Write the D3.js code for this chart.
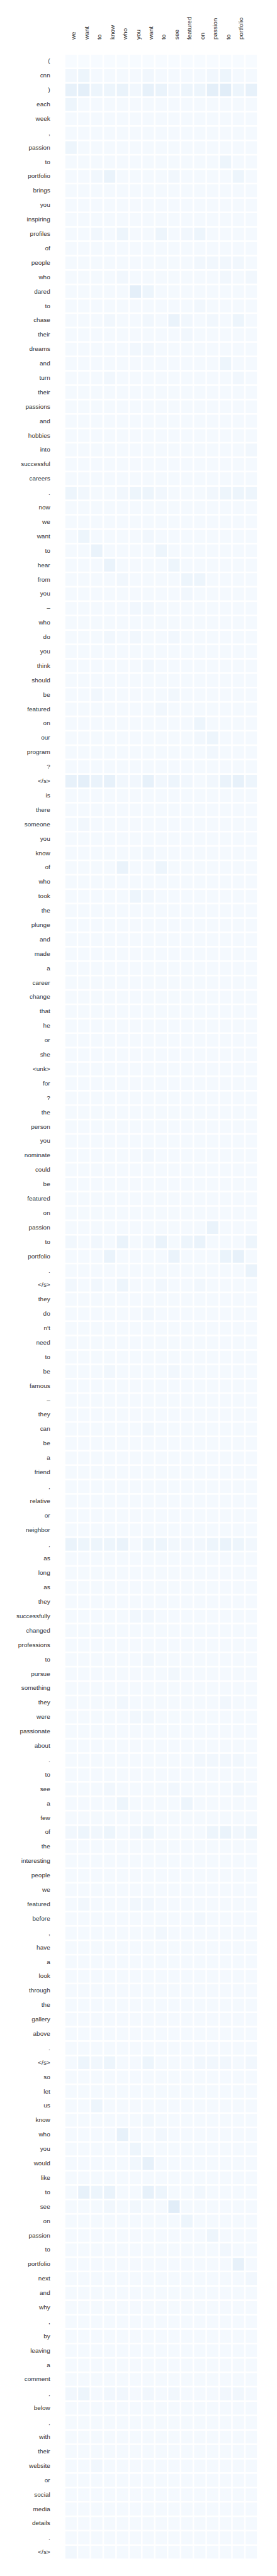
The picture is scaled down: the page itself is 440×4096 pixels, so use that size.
<!DOCTYPE html>
<html>
<head>
<meta charset="utf-8">
<script src="https://cdn.jsdelivr.net/npm/d3@7/dist/d3.min.js"></script>
<style>
  html, body { margin: 0; padding: 0; background: #ffffff; }
  svg { display: block; }
</style>
</head>
<body>
<div id="chart"></div>
<script>
// Target (column) tokens
const columns = ["we", "want", "to", "know", "who", "you", "want", "to", "see", "featured", "on", "passion", "to", "portfolio", ""];

// Source (row) tokens
const rows = ["(", "cnn", ")", "each", "week", ",", "passion", "to", "portfolio", "brings",
  "you", "inspiring", "profiles", "of", "people", "who", "dared", "to", "chase", "their",
  "dreams", "and", "turn", "their", "passions", "and", "hobbies", "into", "successful", "careers",
  ".", "now", "we", "want", "to", "hear", "from", "you", "–", "who",
  "do", "you", "think", "should", "be", "featured", "on", "our", "program", "?",
  "</s>", "is", "there", "someone", "you", "know", "of", "who", "took", "the",
  "plunge", "and", "made", "a", "career", "change", "that", "he", "or", "she",
  "<unk>", "for", "?", "the", "person", "you", "nominate", "could", "be", "featured",
  "on", "passion", "to", "portfolio", ".", "</s>", "they", "do", "n't", "need",
  "to", "be", "famous", "–", "they", "can", "be", "a", "friend", ",",
  "relative", "or", "neighbor", ",", "as", "long", "as", "they", "successfully", "changed",
  "professions", "to", "pursue", "something", "they", "were", "passionate", "about", ".", "to",
  "see", "a", "few", "of", "the", "interesting", "people", "we", "featured", "before",
  ",", "have", "a", "look", "through", "the", "gallery", "above", ".", "</s>",
  "so", "let", "us", "know", "who", "you", "would", "like", "to", "see",
  "on", "passion", "to", "portfolio", "next", "and", "why", ",", "by", "leaving",
  "a", "comment", ",", "below", ",", "with", "their", "website", "or", "social",
  "media", "details", ".", "</s>"];

// Attention weight per row (source token) and column (target token), in hundredths
const weights = [
  [0,0,0,0,0,0,0,0,0,0,0,0,0,0,0],
  [2,3,1,1,1,1,2,1,1,1,1,2,3,1,1],
  [5,6,3,3,4,2,5,4,2,3,3,6,7,3,5],
  [3,1,1,1,1,1,1,1,1,1,1,1,1,1,1],
  [1,1,1,1,1,1,1,1,1,1,1,1,1,1,1],
  [1,1,1,1,1,1,1,1,1,1,1,1,1,1,1],
  [3,1,1,1,1,1,1,1,1,1,1,1,1,1,1],
  [1,1,1,1,1,1,1,1,1,1,1,1,3,1,1],
  [1,1,2,4,1,1,1,1,2,1,1,1,1,3,1],
  [1,1,1,1,1,1,1,1,1,1,1,1,1,1,1],
  [1,1,1,1,1,1,1,1,1,1,1,1,1,1,1],
  [1,1,1,1,1,1,1,1,1,1,1,1,1,1,1],
  [1,1,2,1,3,1,1,3,1,2,3,1,1,1,1],
  [1,1,1,1,1,1,1,1,1,1,1,1,1,1,1],
  [1,1,1,1,1,1,1,1,1,1,2,2,2,2,1],
  [1,1,1,1,2,1,1,1,1,1,1,1,2,1,2],
  [1,1,1,1,1,6,3,1,1,1,1,1,1,1,1],
  [1,1,1,1,1,1,1,1,1,1,2,1,1,1,1],
  [1,1,1,2,1,1,2,1,4,2,1,2,1,3,1],
  [1,1,1,1,1,1,1,1,1,2,1,1,1,1,1],
  [1,1,1,1,1,2,2,1,1,1,1,1,1,1,1],
  [1,1,1,1,1,1,1,1,1,1,1,1,3,1,1],
  [1,1,1,2,1,1,1,1,1,1,1,1,1,2,1],
  [1,1,1,1,1,1,1,1,1,1,1,1,1,1,1],
  [1,1,1,1,1,1,1,1,1,1,1,1,1,1,1],
  [1,1,1,1,1,1,1,1,1,1,1,1,1,1,1],
  [1,1,1,1,1,1,1,1,1,1,1,1,1,1,1],
  [1,1,1,1,1,1,1,1,1,1,1,1,1,1,2],
  [1,1,1,1,1,1,1,1,1,1,1,1,1,1,1],
  [1,1,1,1,1,1,1,1,1,1,1,1,1,1,1],
  [3,2,1,1,2,3,3,2,1,1,1,2,3,3,3],
  [1,1,1,1,1,1,1,1,1,1,1,1,1,1,1],
  [1,1,1,1,1,1,1,1,1,1,1,1,1,1,1],
  [1,3,1,1,1,1,2,1,1,1,1,1,1,1,1],
  [1,1,4,1,1,1,1,3,1,1,1,1,1,1,1],
  [1,1,1,4,1,1,1,1,3,1,1,1,1,1,1],
  [1,1,1,1,2,1,1,1,1,3,3,1,1,1,1],
  [1,1,1,1,1,1,1,1,1,2,1,1,1,1,1],
  [1,1,1,1,1,2,2,1,1,1,1,1,1,1,1],
  [1,1,1,1,1,1,1,1,1,1,1,1,1,1,1],
  [1,1,1,2,1,2,1,1,2,1,1,1,1,1,1],
  [1,1,1,1,1,1,1,1,1,1,1,1,1,1,1],
  [1,1,1,1,1,1,2,1,1,1,1,1,1,1,1],
  [1,1,1,1,1,1,1,1,1,1,1,1,1,1,1],
  [1,1,2,1,1,1,1,1,2,1,1,1,1,1,1],
  [1,1,1,1,1,1,1,2,1,1,1,1,1,1,1],
  [1,1,1,1,1,1,1,1,1,1,3,1,1,1,1],
  [1,1,1,1,1,1,1,1,1,1,2,3,1,1,1],
  [1,1,1,1,1,1,1,1,1,1,1,2,1,1,1],
  [1,1,1,1,1,1,1,1,1,1,1,1,1,1,1],
  [5,6,4,5,2,2,5,2,3,2,1,2,4,5,3],
  [1,1,1,1,1,1,1,1,1,1,1,1,1,1,1],
  [1,1,1,1,1,1,1,1,1,1,1,1,1,1,1],
  [1,2,1,1,1,1,1,1,1,1,1,1,1,1,1],
  [1,1,1,1,1,1,1,1,1,1,1,1,1,1,1],
  [1,1,1,1,1,1,2,1,1,1,1,1,1,1,1],
  [1,1,1,1,4,1,1,3,1,1,1,1,1,1,1],
  [1,1,1,1,1,1,1,1,1,1,1,1,1,1,1],
  [1,1,1,1,1,3,2,1,1,1,1,1,1,1,1],
  [1,1,1,1,1,1,1,1,1,1,1,1,1,1,1],
  [1,1,1,1,1,1,1,1,1,1,1,1,1,1,1],
  [1,1,1,1,1,1,1,1,1,1,1,1,1,1,1],
  [1,1,1,1,1,1,1,1,1,1,1,1,1,1,1],
  [1,1,1,1,1,1,1,1,1,1,1,1,1,1,1],
  [1,1,1,1,1,1,1,1,1,1,1,1,1,1,1],
  [1,1,1,1,1,1,1,1,1,1,1,1,1,1,1],
  [1,1,1,1,1,1,1,1,1,1,1,1,1,1,1],
  [1,1,1,1,1,1,1,1,1,1,1,1,1,1,1],
  [1,1,1,1,1,1,1,1,1,1,1,1,1,1,1],
  [1,1,1,1,1,1,1,1,1,1,1,1,1,1,1],
  [1,1,1,1,1,1,1,1,1,1,1,1,1,1,1],
  [1,1,1,1,1,1,1,1,1,1,1,1,1,1,1],
  [1,1,1,1,1,1,1,1,1,1,1,1,1,1,1],
  [1,1,1,1,1,1,1,1,1,1,1,1,1,1,1],
  [1,1,1,1,1,1,1,1,1,1,1,1,1,1,1],
  [1,1,1,1,1,1,1,1,1,1,1,1,1,1,1],
  [1,1,1,1,1,1,2,1,1,1,1,1,1,1,1],
  [1,1,1,1,1,1,1,1,1,1,1,1,1,1,1],
  [1,1,1,1,1,1,1,1,1,1,1,1,1,1,1],
  [1,1,1,1,1,1,1,1,1,1,1,1,1,1,1],
  [1,1,1,1,1,1,1,1,1,1,1,1,1,1,1],
  [1,1,1,1,1,1,1,1,1,1,1,4,1,1,1],
  [2,1,2,1,4,1,2,4,1,3,4,1,1,1,3],
  [1,1,1,4,1,1,1,1,4,1,1,1,4,5,1],
  [1,1,1,1,1,1,1,1,1,1,1,1,1,1,4],
  [2,1,2,1,3,1,1,2,1,1,2,1,1,1,1],
  [1,1,1,1,1,1,1,1,1,1,1,1,1,1,1],
  [1,1,1,1,1,1,2,1,1,1,1,1,1,1,1],
  [1,1,1,1,1,1,1,1,1,1,1,1,1,1,1],
  [1,1,1,1,1,1,1,1,1,1,1,1,1,1,1],
  [1,1,1,1,1,1,1,1,1,1,1,1,1,1,1],
  [1,1,1,2,1,1,1,1,2,1,1,1,1,1,1],
  [1,1,1,1,1,1,1,1,1,1,1,1,1,1,1],
  [1,1,1,1,1,1,1,1,1,1,1,1,1,1,1],
  [1,1,1,1,1,1,1,1,1,1,1,1,1,1,1],
  [1,1,1,1,1,1,2,1,1,1,1,1,1,1,1],
  [1,1,1,1,1,1,1,1,1,1,1,1,1,1,1],
  [1,1,1,1,1,1,1,1,1,1,1,1,1,1,1],
  [1,1,1,1,1,1,1,1,1,1,1,1,1,1,1],
  [1,1,1,1,1,1,1,1,1,1,1,1,1,1,1],
  [1,1,1,1,1,1,1,1,1,1,1,1,1,1,1],
  [1,1,1,1,1,1,1,1,1,1,1,1,1,1,1],
  [1,1,1,1,1,1,1,1,1,1,1,1,1,1,1],
  [4,3,3,3,4,1,3,3,2,2,2,3,4,3,2],
  [1,1,1,1,1,1,1,1,1,1,1,1,1,1,1],
  [1,1,1,1,1,1,1,1,1,1,1,1,1,1,1],
  [1,1,1,1,1,1,1,1,1,1,1,1,1,1,1],
  [1,1,1,1,1,1,1,1,1,1,1,1,1,1,1],
  [1,1,1,1,1,2,2,1,1,1,1,1,1,1,1],
  [1,1,1,1,1,1,1,1,1,1,1,1,1,1,1],
  [1,1,1,1,1,1,1,1,1,1,1,1,1,1,1],
  [1,1,1,1,1,1,2,1,1,1,1,1,1,1,1],
  [1,1,1,1,1,1,1,1,2,1,1,1,1,1,1],
  [1,1,1,1,1,1,1,1,1,1,1,1,1,1,1],
  [1,1,1,1,2,1,1,1,1,1,1,1,2,1,1],
  [1,1,1,1,1,2,2,1,1,1,1,1,1,1,1],
  [1,1,1,1,1,1,1,1,1,1,1,1,1,1,1],
  [1,1,1,1,1,1,1,1,1,1,1,1,1,1,1],
  [1,1,1,1,1,1,1,1,1,1,2,2,2,2,1],
  [1,1,1,1,1,1,1,1,1,1,1,1,1,1,1],
  [1,1,1,2,1,1,1,1,2,1,1,1,1,2,1],
  [1,1,1,1,3,1,1,1,1,3,1,1,1,1,1],
  [1,1,1,1,1,1,1,1,1,1,1,1,1,1,1],
  [2,3,2,3,1,2,3,1,1,1,1,3,4,2,3],
  [1,1,1,1,1,1,1,1,1,1,1,1,1,1,1],
  [1,1,1,1,1,1,1,1,1,1,1,1,1,1,1],
  [1,1,1,1,1,1,1,1,1,1,1,1,1,1,1],
  [1,1,1,1,1,1,1,1,1,1,1,1,1,1,1],
  [1,2,1,1,1,2,2,1,1,1,1,1,1,1,1],
  [1,1,1,1,1,1,1,1,1,1,2,1,1,1,1],
  [1,1,1,1,1,1,1,2,1,1,1,1,1,1,1],
  [1,1,1,1,1,1,1,1,1,1,1,1,1,1,1],
  [1,1,1,1,1,1,1,1,1,1,1,1,1,1,1],
  [1,1,1,1,1,1,1,1,1,1,1,1,1,1,1],
  [1,1,1,1,1,1,1,1,1,1,1,1,1,1,1],
  [1,1,1,1,1,1,1,1,1,1,1,1,1,1,1],
  [1,1,1,1,1,1,1,1,1,1,1,1,1,1,1],
  [1,1,1,1,1,1,1,1,1,1,1,1,1,1,1],
  [1,1,1,1,1,1,1,1,1,1,1,1,1,1,1],
  [1,3,2,3,1,1,3,1,1,1,2,2,2,1,2],
  [1,1,1,1,1,1,1,1,1,1,1,1,1,1,1],
  [1,1,1,1,1,1,1,1,1,1,1,1,1,1,1],
  [1,1,3,1,1,1,1,1,1,1,1,1,1,1,1],
  [1,1,1,1,1,1,2,1,1,1,1,1,1,1,1],
  [1,1,1,1,5,1,1,2,1,1,1,1,1,1,1],
  [1,1,1,1,1,3,1,1,1,1,1,1,1,1,1],
  [1,1,1,1,1,2,5,1,1,1,1,1,1,1,1],
  [1,1,1,1,1,1,1,1,1,1,1,1,1,1,1],
  [1,5,3,4,1,1,5,3,1,1,2,1,1,1,1],
  [1,1,1,2,1,2,1,1,7,1,1,1,1,1,1],
  [1,1,1,1,1,1,1,1,1,3,1,1,1,1,1],
  [1,1,1,1,1,1,1,1,1,1,1,3,1,1,1],
  [1,1,1,1,1,1,1,1,1,1,1,1,2,1,1],
  [1,1,1,1,1,1,1,1,1,1,1,1,1,5,1],
  [1,1,1,1,1,1,1,1,1,1,1,1,1,1,2],
  [1,1,1,1,1,1,1,1,1,1,1,1,1,1,1],
  [1,1,1,1,1,1,1,1,1,1,1,1,1,1,1],
  [1,1,1,1,1,1,1,1,1,1,1,1,1,1,1],
  [1,1,1,1,1,1,1,1,1,1,1,1,1,1,1],
  [1,1,1,1,1,1,1,1,1,1,1,1,1,1,1],
  [1,1,1,1,1,1,1,1,1,1,1,1,1,1,1],
  [1,1,1,1,1,1,1,1,1,1,1,1,1,1,1],
  [2,3,1,2,2,1,2,1,2,1,1,1,2,2,1],
  [1,1,1,1,1,1,1,1,1,1,1,1,1,1,1],
  [1,1,1,1,1,1,1,1,1,1,1,1,1,1,1],
  [1,1,1,1,1,1,1,1,1,1,1,1,1,1,1],
  [1,1,1,1,1,1,1,1,1,1,1,1,1,1,1],
  [1,1,2,1,1,1,1,1,1,1,1,1,1,1,1],
  [1,1,1,1,1,1,1,1,1,1,1,1,1,1,1],
  [1,1,1,1,1,1,1,1,1,1,1,1,1,1,1],
  [1,1,1,1,1,1,1,1,1,1,1,1,1,1,1],
  [1,1,1,1,1,1,1,1,1,1,1,1,1,1,1],
  [1,1,1,1,1,1,1,1,1,1,1,1,1,1,1],
  [2,1,1,1,1,1,1,1,1,1,1,1,1,1,1]
];

const W = 530, H = 4934;

const svg = d3.select("#chart").append("svg")
  .attr("width", 440)
  .attr("height", 4096)
  .attr("viewBox", `0 0 ${W} ${H}`)
  .attr("preserveAspectRatio", "xMinYMin meet");

const x = d3.scaleBand()
  .domain(d3.range(columns.length))
  .range([123.55, 493.15])
  .paddingInner(0.12)
  .paddingOuter(0.06);

const y = d3.scaleBand()
  .domain(d3.range(rows.length))
  .range([103.4, 4902.3])
  .paddingInner(0.115)
  .paddingOuter(0.0575);

const color = d3.scaleSequential(d3.interpolateBlues).domain([0, 62]);

const cells = [];
weights.forEach((r, i) => r.forEach((v, j) => cells.push({ i, j, v })));

svg.append("g").selectAll("rect")
  .data(cells)
  .join("rect")
  .attr("x", d => x(d.j))
  .attr("y", d => y(d.i))
  .attr("width", x.bandwidth())
  .attr("height", y.bandwidth())
  .attr("fill", d => color(d.v));

svg.append("g").selectAll("text")
  .data(rows)
  .join("text")
  .attr("x", 96)
  .attr("y", (d, i) => y(i) + y.bandwidth() / 2)
  .attr("dy", "0.3em")
  .attr("text-anchor", "end")
  .attr("font-family", "'Liberation Sans', Arial, sans-serif")
  .attr("font-size", 12)
  .attr("fill", "#333")
  .text(d => d);

svg.append("g").selectAll("text")
  .data(columns)
  .join("text")
  .attr("transform", (d, j) => `translate(${x(j) + x.bandwidth() / 2 + 9},76) rotate(-90)`)
  .attr("text-anchor", "start")
  .attr("font-family", "'Liberation Sans', Arial, sans-serif")
  .attr("font-size", 12)
  .attr("fill", "#333")
  .text(d => d);
</script>
</body>
</html>
